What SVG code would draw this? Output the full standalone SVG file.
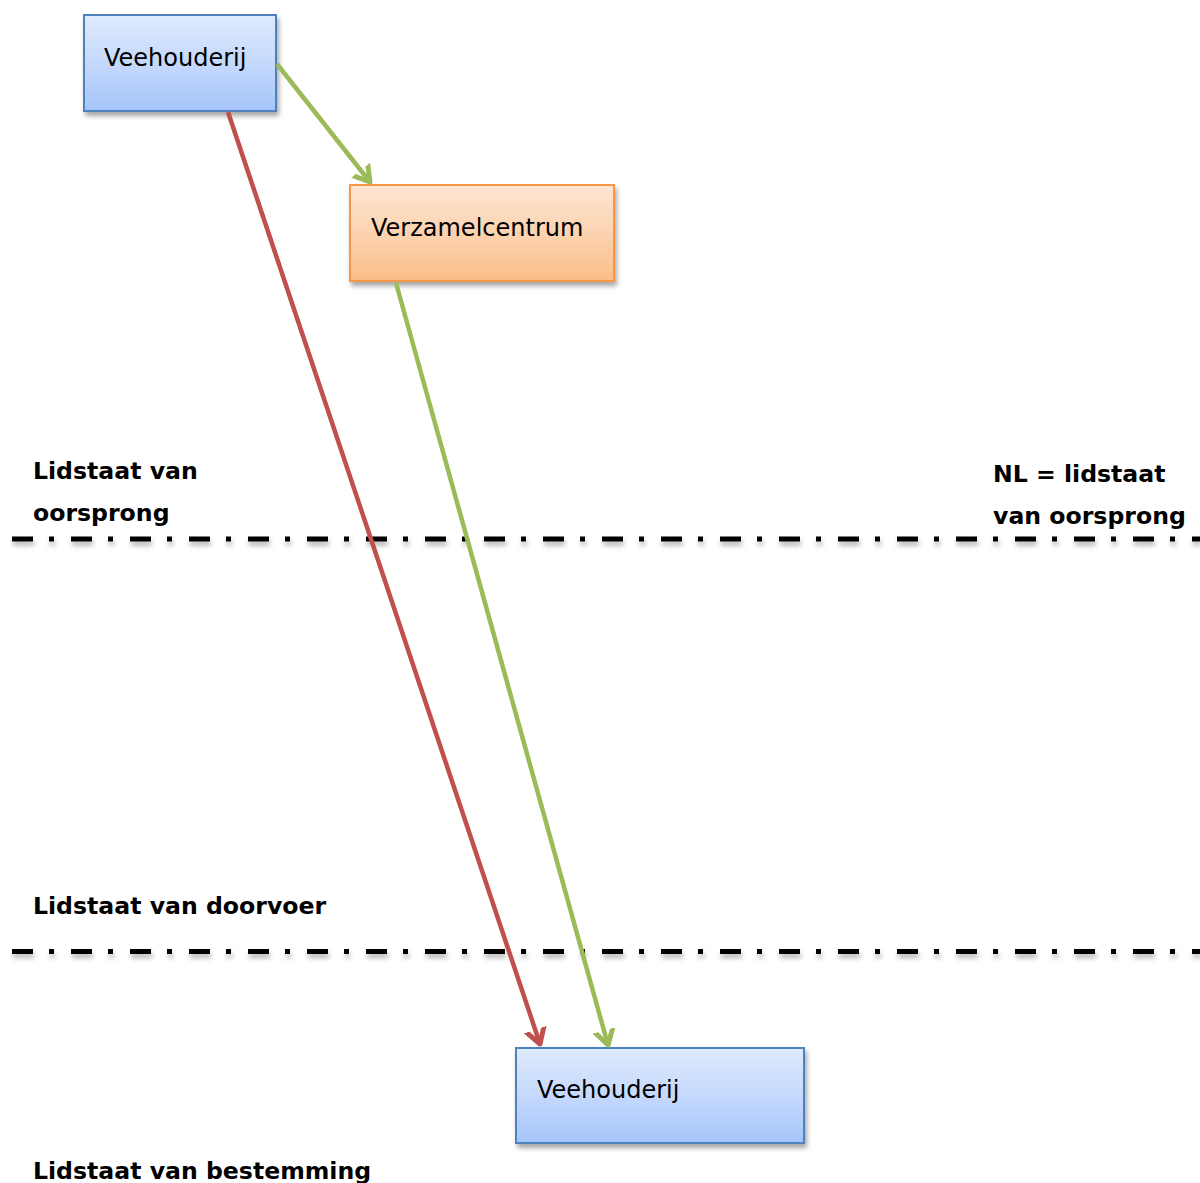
<svg xmlns="http://www.w3.org/2000/svg" width="1200" height="1183" viewBox="0 0 1200 1183">
<style>
.lbl{font-family:"DejaVu Sans","Liberation Sans",sans-serif;font-size:24px;fill:#000}
.bold{font-family:"DejaVu Sans","Liberation Sans",sans-serif;font-size:23.6px;font-weight:bold;fill:#000}
.boundary{stroke:#000;stroke-width:5;stroke-dasharray:21 16 5 17;fill:none}
.blue{fill:url(#gBlue);stroke:#4f81bd;stroke-width:2}
.orange{fill:url(#gOrange);stroke:#f79646;stroke-width:2}
.red{stroke:#c0504d;stroke-width:4.5;fill:none}
.green{stroke:#9bbb59;stroke-width:4.5;fill:none}
</style>
<defs>
<linearGradient id="gBlue" x1="0" y1="0" x2="0" y2="1">
<stop offset="0" stop-color="#dfeafd"/>
<stop offset="0.5" stop-color="#c5d9fc"/>
<stop offset="1" stop-color="#a5c4fa"/>
</linearGradient>
<linearGradient id="gOrange" x1="0" y1="0" x2="0" y2="1">
<stop offset="0" stop-color="#fde6d4"/>
<stop offset="0.5" stop-color="#fcd3b0"/>
<stop offset="1" stop-color="#fbbd89"/>
</linearGradient>
<filter id="shadow" x="-10%" y="-10%" width="130%" height="140%">
<feDropShadow dx="2" dy="4" stdDeviation="2.5" flood-color="#000" flood-opacity="0.35"/>
</filter>
<filter id="lshadow" filterUnits="userSpaceOnUse" x="0" y="500" width="1200" height="480">
<feDropShadow dx="1" dy="4" stdDeviation="2.5" flood-color="#000" flood-opacity="0.3"/>
</filter>
<marker id="arrRed" markerUnits="userSpaceOnUse" markerWidth="30" markerHeight="30" viewBox="-15 -15 30 30" refX="0" refY="0" orient="auto">
<path d="M-15,-9 L0,0 L-15,9" stroke="#c0504d" stroke-width="5" fill="none" stroke-linecap="round" stroke-linejoin="round"/>
</marker>
<marker id="arrGreen" markerUnits="userSpaceOnUse" markerWidth="30" markerHeight="30" viewBox="-15 -15 30 30" refX="0" refY="0" orient="auto">
<path d="M-15,-9 L0,0 L-15,9" stroke="#9bbb59" stroke-width="5" fill="none" stroke-linecap="round" stroke-linejoin="round"/>
</marker>
</defs>
<rect width="1200" height="1183" fill="#fff"/>

<g id="boundaries" filter="url(#lshadow)">
<line class="boundary" x1="12" y1="539" x2="1200" y2="539"/>
<line class="boundary" x1="12" y1="951.5" x2="1200" y2="951.5"/>
</g>

<g id="labels">
<text class="bold" x="33" y="479">Lidstaat van</text>
<text class="bold" x="33" y="521">oorsprong</text>
<text class="bold" x="993" y="482">NL = lidstaat</text>
<text class="bold" x="993" y="524">van oorsprong</text>
<text class="bold" x="33" y="914">Lidstaat van doorvoer</text>
<text class="bold" x="33" y="1179">Lidstaat van bestemming</text>
</g>

<g id="node-veehouderij-origin">
<rect class="blue" x="84" y="15" width="192" height="96" filter="url(#shadow)"/>
<text class="lbl" x="104" y="66">Veehouderij</text>
</g>

<g id="node-verzamelcentrum">
<rect class="orange" x="350" y="185" width="264" height="96" filter="url(#shadow)"/>
<text class="lbl" x="371" y="236">Verzamelcentrum</text>
</g>

<g id="node-veehouderij-destination">
<rect class="blue" x="516" y="1048" width="288" height="95" filter="url(#shadow)"/>
<text class="lbl" x="537" y="1098">Veehouderij</text>
</g>

<g id="connectors">
<line class="green" x1="277" y1="64" x2="370" y2="182" marker-end="url(#arrGreen)"/>
<line class="red" x1="228" y1="112" x2="540" y2="1044" marker-end="url(#arrRed)"/>
<line class="green" x1="396" y1="283" x2="608" y2="1045" marker-end="url(#arrGreen)"/>
</g>
</svg>
